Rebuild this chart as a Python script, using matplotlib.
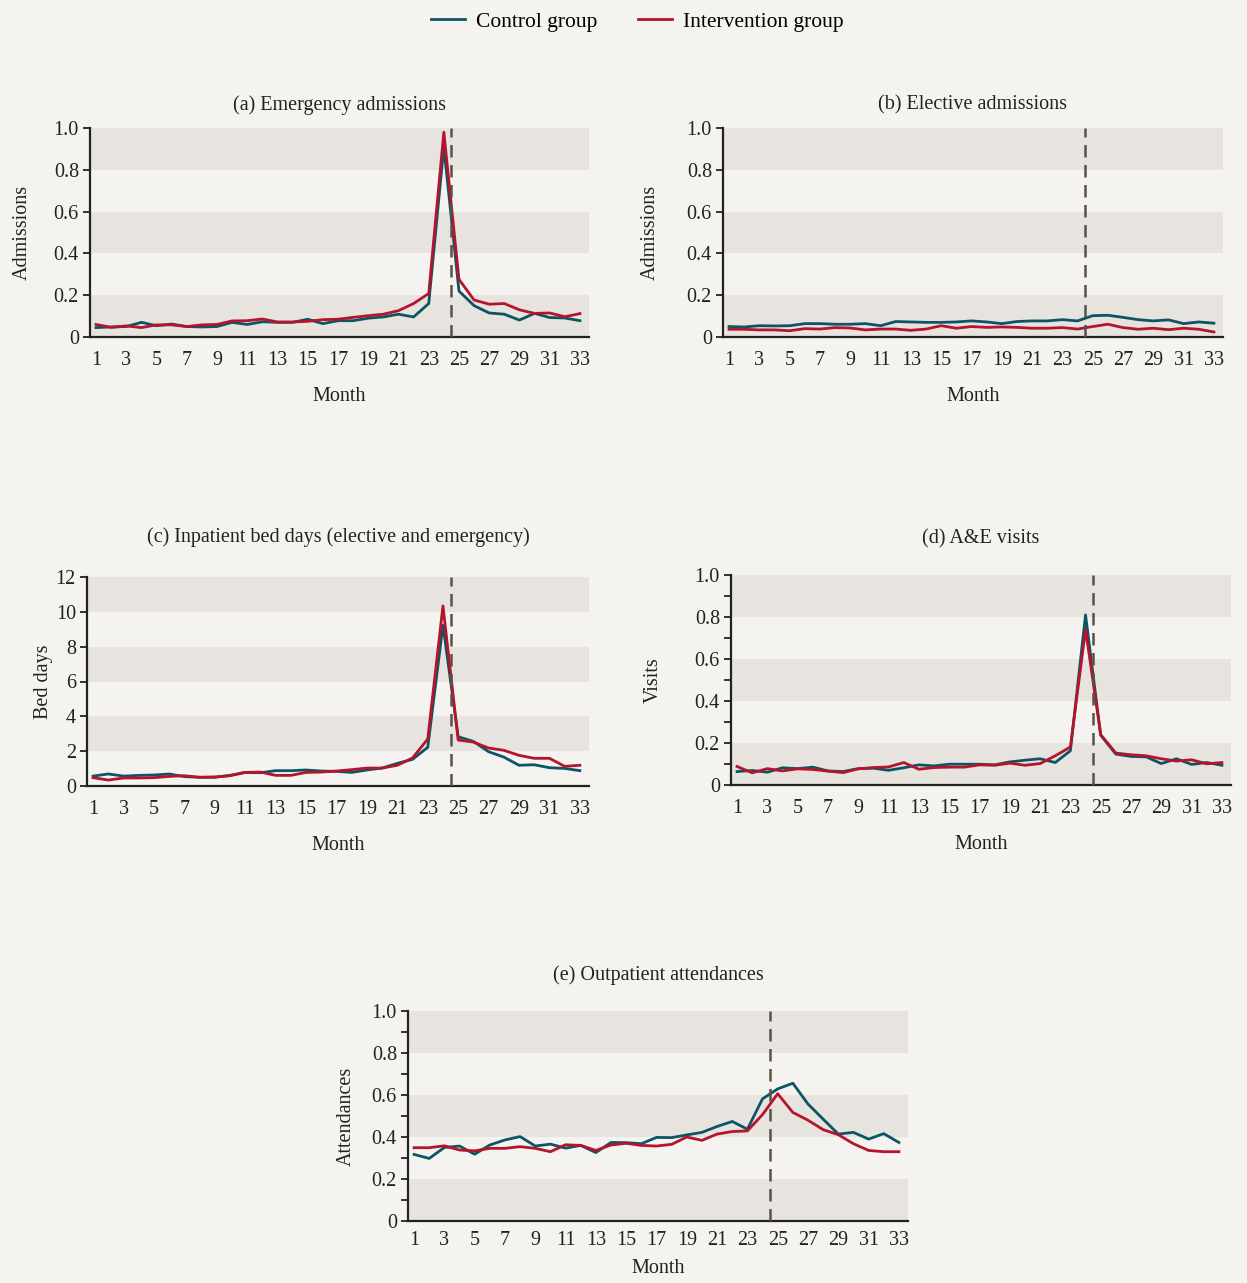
import numpy as np
import matplotlib
matplotlib.use("Agg")
import matplotlib.pyplot as plt
from matplotlib.ticker import MultipleLocator, FuncFormatter
from matplotlib.lines import Line2D

plt.rcParams['font.family'] = ['Liberation Serif', 'DejaVu Serif']

months = np.arange(1, 34)

# (a) emergency admissions
emerg_ctrl = [0.045, 0.048, 0.050, 0.070, 0.054, 0.062, 0.050, 0.048, 0.050, 0.070, 0.060,
              0.073, 0.070, 0.070, 0.085, 0.064, 0.078, 0.078, 0.090, 0.096, 0.109, 0.096,
              0.160, 0.910, 0.220, 0.150, 0.115, 0.109, 0.081, 0.113, 0.093, 0.091, 0.078]
emerg_int = [0.060, 0.046, 0.053, 0.045, 0.058, 0.058, 0.050, 0.058, 0.060, 0.077, 0.078,
             0.086, 0.072, 0.072, 0.075, 0.083, 0.085, 0.094, 0.102, 0.109, 0.126, 0.160,
             0.208, 0.980, 0.276, 0.177, 0.157, 0.160, 0.130, 0.113, 0.115, 0.097, 0.112]

# (b) elective admissions
elect_ctrl = [0.050, 0.048, 0.054, 0.053, 0.054, 0.064, 0.064, 0.061, 0.061, 0.064, 0.054,
              0.074, 0.072, 0.070, 0.070, 0.072, 0.077, 0.072, 0.064, 0.074, 0.077, 0.077,
              0.083, 0.077, 0.102, 0.104, 0.094, 0.083, 0.077, 0.082, 0.064, 0.072, 0.066]
elect_int = [0.037, 0.037, 0.034, 0.034, 0.030, 0.040, 0.038, 0.045, 0.043, 0.034, 0.038,
             0.038, 0.032, 0.038, 0.054, 0.042, 0.050, 0.046, 0.048, 0.046, 0.042, 0.042,
             0.045, 0.038, 0.050, 0.061, 0.045, 0.037, 0.042, 0.035, 0.042, 0.037, 0.024]

# (c) inpatient bed days
bed_ctrl = [0.57, 0.69, 0.57, 0.61, 0.63, 0.69, 0.54, 0.50, 0.50, 0.61, 0.78,
            0.76, 0.88, 0.88, 0.92, 0.86, 0.84, 0.78, 0.92, 1.03, 1.30, 1.53,
            2.22, 9.23, 2.83, 2.56, 1.97, 1.66, 1.19, 1.22, 1.05, 1.01, 0.88]
bed_int = [0.48, 0.34, 0.46, 0.46, 0.48, 0.55, 0.59, 0.50, 0.52, 0.59, 0.78,
           0.80, 0.61, 0.61, 0.78, 0.80, 0.86, 0.94, 1.03, 1.03, 1.19, 1.61,
           2.70, 10.34, 2.64, 2.52, 2.18, 2.05, 1.76, 1.59, 1.59, 1.13, 1.19]

# (d) A&E visits
ae_ctrl = [0.064, 0.069, 0.061, 0.082, 0.078, 0.085, 0.067, 0.064, 0.078, 0.080, 0.070,
           0.082, 0.096, 0.091, 0.099, 0.099, 0.099, 0.096, 0.110, 0.118, 0.125, 0.107,
           0.163, 0.810, 0.237, 0.147, 0.136, 0.134, 0.102, 0.125, 0.098, 0.107, 0.094]
ae_int = [0.088, 0.058, 0.078, 0.067, 0.077, 0.074, 0.066, 0.059, 0.077, 0.083, 0.086,
          0.107, 0.075, 0.083, 0.085, 0.085, 0.096, 0.094, 0.104, 0.094, 0.102, 0.139,
          0.181, 0.741, 0.240, 0.152, 0.144, 0.139, 0.125, 0.114, 0.120, 0.101, 0.107]

# (e) outpatient attendances
out_ctrl = [0.317, 0.298, 0.350, 0.357, 0.318, 0.362, 0.386, 0.402, 0.357, 0.366, 0.347,
            0.360, 0.326, 0.374, 0.373, 0.368, 0.398, 0.397, 0.410, 0.422, 0.450, 0.474,
            0.437, 0.582, 0.629, 0.656, 0.557, 0.485, 0.414, 0.422, 0.390, 0.416, 0.374]
out_int = [0.349, 0.349, 0.358, 0.338, 0.334, 0.346, 0.346, 0.354, 0.346, 0.330, 0.363,
           0.360, 0.336, 0.362, 0.370, 0.360, 0.357, 0.365, 0.400, 0.384, 0.414, 0.426,
           0.429, 0.507, 0.606, 0.517, 0.480, 0.435, 0.411, 0.368, 0.336, 0.330, 0.330]

TEAL = '#0d5564'
RED = '#b4142c'
BG = '#f5f3ef'
BAND = '#e7e4df'
DASH = '#5a514b'

W, H = 1247, 1283
fig = plt.figure(figsize=(W / 100, H / 100), dpi=100, facecolor=BG)


def add_panel(left, top, right, bottom, title, ylabel, ctrl, interv, ymax, step,
              shade_first, minor=None, title_pad=13, ylabel_pad=10,
              xtick_pad=10, xlabel_pad=12):
    ax = fig.add_axes([left / W, 1 - bottom / H, (right - left) / W, (bottom - top) / H])
    ax.set_facecolor(BG)
    # alternating horizontal bands
    edges = np.arange(0, ymax + step / 2, step)
    for i in range(len(edges) - 1):
        if (i % 2 == 0) == shade_first:
            ax.axhspan(edges[i], edges[i + 1], color=BAND, lw=0, zorder=0)
    ax.plot(months, ctrl, color=TEAL, lw=2, zorder=3)
    ax.plot(months, interv, color=RED, lw=2, zorder=3)
    ax.axvline(24.5, color=DASH, lw=1.8, dashes=(5, 3), zorder=4)
    ax.set_xlim(0.6, 33.6)
    ax.set_ylim(0, ymax)
    ax.set_xticks(months[::2])
    ax.tick_params(axis='x', length=0, labelsize=14.5, pad=xtick_pad, colors='#222222')
    ax.yaxis.set_major_locator(MultipleLocator(step))
    if minor:
        ax.yaxis.set_minor_locator(MultipleLocator(minor))
    ax.tick_params(axis='y', which='both', length=5, width=1.3, labelsize=14.5,
                   colors='#222222', pad=3)
    if step < 1:
        ax.yaxis.set_major_formatter(FuncFormatter(lambda v, p: '0' if v == 0 else f'{v:.1f}'))
    for s in ['top', 'right']:
        ax.spines[s].set_visible(False)
    for s in ['left', 'bottom']:
        ax.spines[s].set_color('#222222')
        ax.spines[s].set_linewidth(1.6)
    ax.set_title(title, fontsize=14.5, pad=title_pad, color='#222222')
    ax.set_xlabel('Month', fontsize=14.5, labelpad=xlabel_pad, color='#222222')
    ax.set_ylabel(ylabel, fontsize=14.5, labelpad=ylabel_pad, color='#222222')
    return ax


add_panel(90, 128, 589, 337, '(a) Emergency admissions', 'Admissions',
          emerg_ctrl, emerg_int, 1.0, 0.2, True, ylabel_pad=16)
add_panel(723, 128, 1223, 337, '(b) Elective admissions', 'Admissions',
          elect_ctrl, elect_int, 1.0, 0.2, True, ylabel_pad=19)
add_panel(87, 577, 589, 786, '(c) Inpatient bed days (elective and emergency)', 'Bed days',
          bed_ctrl, bed_int, 12, 2, False, title_pad=25, ylabel_pad=2)
add_panel(731, 575, 1231, 785, '(d) A&E visits', 'Visits',
          ae_ctrl, ae_int, 1.0, 0.2, True, minor=0.1, title_pad=23, ylabel_pad=23)
add_panel(408, 1011, 908, 1221, '(e) Outpatient attendances', 'Attendances',
          out_ctrl, out_int, 1.0, 0.2, True, minor=0.1, title_pad=22, ylabel_pad=11.5,
          xtick_pad=7, xlabel_pad=7)

handles = [Line2D([], [], color=TEAL, lw=2), Line2D([], [], color=RED, lw=2)]
fig.legend(handles, ['Control group', 'Intervention group'], loc='upper center',
           bbox_to_anchor=(0.511, 1.006), ncol=2, frameon=False, fontsize=15.5,
           handlelength=1.6, columnspacing=1.9, handletextpad=0.5)

fig.savefig('out.png', dpi=100, facecolor=BG)
